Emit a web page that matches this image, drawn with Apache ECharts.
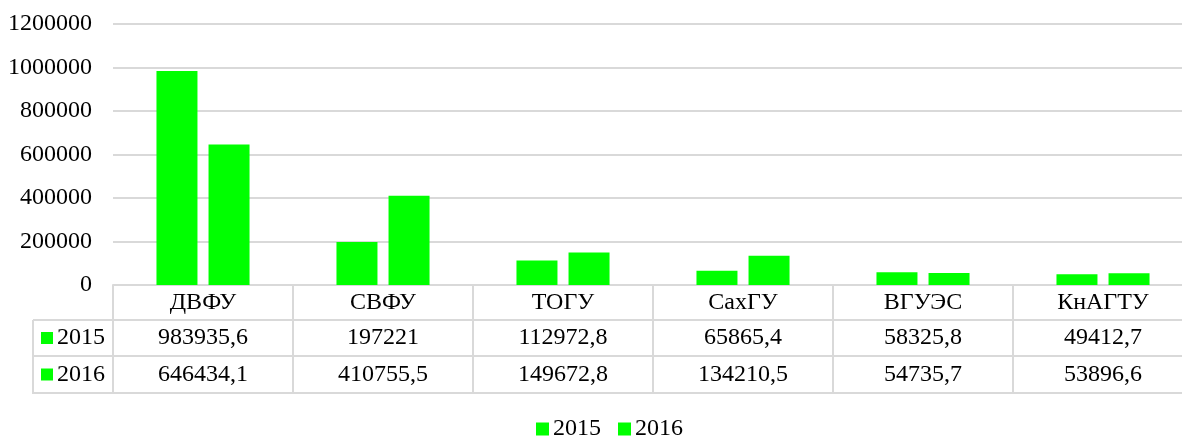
<!DOCTYPE html>
<html>
<head>
<meta charset="utf-8">
<script src="https://cdn.jsdelivr.net/npm/echarts@6/dist/echarts.min.js"></script>
<style>
  html, body { margin: 0; padding: 0; background: #fff; }
  #main { width: 1182px; height: 439px; }
</style>
</head>
<body>
<div id="main"></div>
<script>
const categories = ['ДВФУ', 'СВФУ', 'ТОГУ', 'СахГУ', 'ВГУЭС', 'КнАГТУ'];
const seriesNames = ['2015', '2016'];
const values2015 = [983935.6, 197221, 112972.8, 65865.4, 58325.8, 49412.7];
const values2016 = [646434.1, 410755.5, 149672.8, 134210.5, 54735.7, 53896.6];
const yTicks = [0, 200000, 400000, 600000, 800000, 1000000, 1200000];

const FONT = '"Liberation Serif", "Times New Roman", serif';
const GREEN = '#00ff00';
const LINE = '#d9d9d9';

// excel style: decimal comma
const fmt = (v) => String(v).replace('.', ',');

const chart = echarts.init(document.getElementById('main'));

// table runs a bit past the right edge, like the original
const gridLeft = 113, gridRight = -11, gridTop = 24, gridBottom = 154;
const axisY = 439 - gridBottom;
const rowLines = [35, 71, 108]; // offsets of table row lines below axis

const tableAxis = (data, offset, margin, showTick) => ({
  type: 'category',
  position: 'bottom',
  offset: offset,
  data: data,
  axisLine: { show: true, lineStyle: { color: LINE, width: 2 } },
  axisTick: {
    show: showTick,
    interval: 0,
    length: rowLines[2],
    lineStyle: { color: LINE, width: 2 }
  },
  axisLabel: {
    interval: 0,
    margin: margin,
    color: '#000',
    fontFamily: FONT,
    fontSize: 24
  },
  splitLine: { show: false }
});

// left header column + bottom border of the data table
const cellLeft = 33;
const hLine = (x1, x2, y) => ({
  type: 'line', z: 100,
  shape: { x1: x1, y1: y, x2: x2, y2: y },
  style: { stroke: LINE, lineWidth: 2 }
});
const leftCells = [
  hLine(cellLeft, gridLeft, axisY + rowLines[0]),
  hLine(cellLeft, gridLeft, axisY + rowLines[1]),
  hLine(cellLeft - 1, 1182, axisY + rowLines[2]),
  {
    type: 'line', z: 100,
    shape: { x1: cellLeft, y1: axisY + rowLines[0], x2: cellLeft, y2: axisY + rowLines[2] },
    style: { stroke: LINE, lineWidth: 2 }
  }
];
seriesNames.forEach((name, i) => {
  const top = axisY + rowLines[i];
  const bottom = axisY + rowLines[i + 1];
  const mid = (top + bottom) / 2;
  leftCells.push({
    type: 'rect',
    shape: { x: 41, y: mid - 6, width: 12, height: 12 },
    style: { fill: GREEN }
  });
  leftCells.push({
    type: 'text',
    x: 57, y: mid,
    style: { text: name, fill: '#000', font: '24px ' + FONT, verticalAlign: 'middle' }
  });
});

chart.setOption({
  animation: false,
  textStyle: { fontFamily: FONT },
  grid: {
    left: gridLeft, right: gridRight, top: gridTop, bottom: gridBottom,
    containLabel: false, outerBoundsMode: 'none'
  },
  legend: {
    data: seriesNames,
    top: 417,
    left: 536,
    padding: 0,
    icon: 'rect',
    itemWidth: 13,
    itemHeight: 13,
    itemGap: 17,
    textStyle: { color: '#000', fontFamily: FONT, fontSize: 24, padding: [0, 0, 0, -1] }
  },
  xAxis: [
    tableAxis(categories, 0, 6, true),
    tableAxis(values2015.map(fmt), rowLines[0], 6, false),
    tableAxis(values2016.map(fmt), rowLines[1], 7, false)
  ],
  yAxis: {
    type: 'value',
    min: yTicks[0],
    max: yTicks[yTicks.length - 1],
    interval: yTicks[1] - yTicks[0],
    axisLine: { show: false },
    axisTick: { show: false },
    axisLabel: { margin: 21, color: '#000', fontFamily: FONT, fontSize: 24, formatter: (v) => String(v) },
    splitLine: { lineStyle: { color: LINE, width: 2 } }
  },
  graphic: leftCells,
  series: [
    {
      name: seriesNames[0],
      type: 'bar',
      xAxisIndex: 0,
      data: values2015,
      barWidth: 41,
      barGap: '27%',
      itemStyle: { color: GREEN }
    },
    {
      name: seriesNames[1],
      type: 'bar',
      xAxisIndex: 0,
      data: values2016,
      barWidth: 41,
      barGap: '27%',
      itemStyle: { color: GREEN }
    }
  ]
});
</script>
</body>
</html>
